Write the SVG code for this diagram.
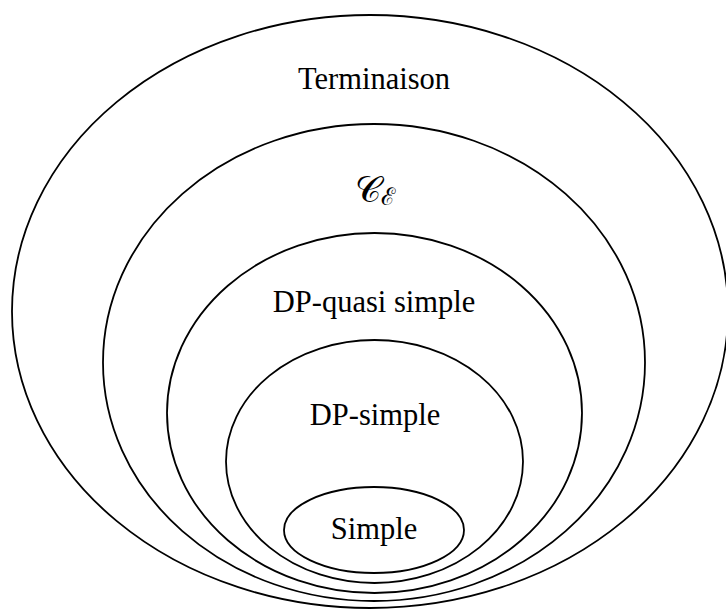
<svg xmlns="http://www.w3.org/2000/svg" width="726" height="610" viewBox="0 0 726 610">
<style>
.set{fill:none;stroke:#000;stroke-width:1.8}
.lbl{font-family:"Liberation Serif","Times New Roman",serif;font-size:30.5px;fill:#000;text-anchor:middle}
.math{font-family:"DejaVu Serif","Noto Sans","Liberation Serif",serif;font-style:normal;fill:#000}
</style>
<rect width="726" height="610" fill="#fff"/>
<g id="terminaison">
<ellipse class="set" cx="370" cy="311.5" rx="358" ry="296.5"/>
<text class="lbl" x="374" y="89">Terminaison</text>
</g>
<g id="ce">
<ellipse class="set" cx="374" cy="362.5" rx="271" ry="238.5"/>
<text class="math" x="355" y="202" font-size="36">𝒞<tspan font-size="24" dy="3">ℰ</tspan></text>
</g>
<g id="dp-quasi-simple">
<ellipse class="set" cx="374.5" cy="413" rx="207.5" ry="180"/>
<text class="lbl" x="374" y="312">DP-quasi simple</text>
</g>
<g id="dp-simple">
<ellipse class="set" cx="374.5" cy="461.5" rx="148.5" ry="121.5"/>
<text class="lbl" x="375" y="425">DP-simple</text>
</g>
<g id="simple">
<ellipse class="set" cx="374" cy="530" rx="90" ry="43"/>
<text class="lbl" x="374" y="539">Simple</text>
</g>
<g id="connectors"/>
</svg>
